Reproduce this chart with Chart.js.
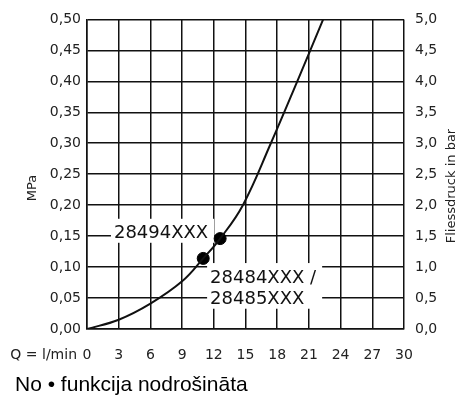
<!DOCTYPE html>
<html>
<head>
<meta charset="utf-8">
<script src="https://cdn.jsdelivr.net/npm/chart.js@4/dist/chart.umd.min.js"></script>
<style>
  html, body { margin: 0; padding: 0; background: #fff; }
  canvas { display: block; }
</style>
</head>
<body>
<canvas id="chart" width="458" height="396"></canvas>
<script>
// durchfluss (l/min) und fliessdruck (MPa)
const flowQ = [0, 3, 6, 9, 11, 12.6, 14.75, 17.4, 19.9, 22.35];
const pressureMPa = [0, 0.015, 0.041, 0.077, 0.114, 0.146, 0.20, 0.30, 0.40, 0.50];

// messpunkte der beiden armaturen
const pointQ = [11, 12.6];
const pointMPa = [0.114, 0.146];

const modelNames = ['28494XXX', '28484XXX /', '28485XXX'];

const xTicks = [0, 3, 6, 9, 12, 15, 18, 21, 24, 27, 30];

const FONT = '"DejaVu Sans", sans-serif';

const fmt = (v, d) => Number(v).toFixed(d).replace('.', ',');

// beschriftungen mit weissem hintergrund, verankert in datenkoordinaten
const labelGroups = [
  [{ text: modelNames[0], q: 2.55, p: 0.157 }],
  [{ text: modelNames[1], q: 11.65, p: 0.0855 }, { text: modelNames[2], q: 11.65, p: 0.0505 }]
];

const overlay = {
  id: 'overlay',
  beforeDatasetsDraw(chart) {
    const { ctx } = chart;
    const x = chart.scales.x, y = chart.scales.y;
    ctx.save();
    ctx.font = '18px ' + FONT;
    labelGroups.forEach(group => {
      let l = Infinity, r = -Infinity, t = Infinity, b = -Infinity;
      group.forEach(g => {
        const px = x.getPixelForValue(g.q), py = y.getPixelForValue(g.p);
        const w = ctx.measureText(g.text).width;
        l = Math.min(l, px - 3); r = Math.max(r, px + w + 6);
        t = Math.min(t, py - 13); b = Math.max(b, py + 11);
      });
      ctx.fillStyle = '#fff';
      ctx.fillRect(l, t, r - l, b - t);
      ctx.fillStyle = '#111';
      ctx.textAlign = 'left';
      ctx.textBaseline = 'alphabetic';
      group.forEach(g => {
        ctx.fillText(g.text, x.getPixelForValue(g.q), y.getPixelForValue(g.p) + 6.5);
      });
    });
    ctx.restore();
  },
  afterDraw(chart) {
    const { ctx, chartArea } = chart;
    ctx.save();
    ctx.fillStyle = '#222';
    ctx.font = '13px ' + FONT;
    ctx.textAlign = 'center';
    ctx.textBaseline = 'middle';

    // linke achse
    ctx.save();
    ctx.translate(33, 188);
    ctx.rotate(-Math.PI / 2);
    ctx.fillText('MPa', 0, 0);
    ctx.restore();

    // rechte achse
    ctx.save();
    ctx.translate(452, 186);
    ctx.rotate(-Math.PI / 2);
    ctx.fillText('Fliessdruck in bar', 0, 0);
    ctx.restore();

    // einheit x-achse
    ctx.font = '14px ' + FONT;
    ctx.textAlign = 'right';
    ctx.fillText('Q = l/min', chartArea.left - 10, 355);

    // fusszeile
    ctx.fillStyle = '#000';
    ctx.font = '21px "Liberation Sans", Arial, sans-serif';
    ctx.textAlign = 'left';
    ctx.textBaseline = 'alphabetic';
    ctx.fillText('No \u2022 funkcija nodrošināta', 15, 391);
    ctx.restore();
  }
};

const ctx = document.getElementById('chart').getContext('2d');

new Chart(ctx, {
  type: 'scatter',
  data: {
    datasets: [
      {
        type: 'line',
        data: flowQ.map((q, i) => ({ x: q, y: pressureMPa[i] })),
        borderColor: '#111',
        borderWidth: 2,
        pointRadius: 0,
        tension: 0.4,
        fill: false
      },
      {
        data: pointQ.map((q, i) => ({ x: q, y: pointMPa[i] })),
        backgroundColor: '#000',
        borderColor: '#000',
        pointRadius: 6,
        pointHoverRadius: 6
      }
    ]
  },
  options: {
    responsive: false,
    animation: false,
    events: [],
    layout: { padding: { top: 13, left: 0, right: 0, bottom: 0 } },
    plugins: {
      legend: { display: false },
      tooltip: { enabled: false }
    },
    scales: {
      x: {
        type: 'linear',
        min: 0,
        max: 30,
        afterFit: s => { s.height = 67; },
        afterBuildTicks: s => { s.ticks = xTicks.map(v => ({ value: v })); },
        grid: { color: '#111', lineWidth: 1.5, drawTicks: false },
        border: { color: '#111', width: 1.5 },
        ticks: {
          padding: 18,
          color: '#222',
          font: { family: FONT, size: 14 },
          callback: v => String(v)
        }
      },
      y: {
        position: 'left',
        min: 0,
        max: 0.5,
        afterFit: s => { s.width = 87; },
        grid: { color: '#111', lineWidth: 1.5, drawTicks: false },
        border: { color: '#111', width: 1.5 },
        ticks: {
          stepSize: 0.05,
          padding: 6,
          color: '#222',
          font: { family: FONT, size: 14 },
          callback: v => fmt(v, 2)
        }
      },
      y2: {
        position: 'right',
        min: 0,
        max: 5,
        afterFit: s => { s.width = 54; },
        grid: { display: false, drawTicks: false },
        border: { display: false },
        ticks: {
          stepSize: 0.5,
          padding: 11,
          color: '#222',
          font: { family: FONT, size: 14 },
          callback: v => fmt(v, 1)
        }
      }
    }
  },
  plugins: [overlay]
});
</script>
</body>
</html>
